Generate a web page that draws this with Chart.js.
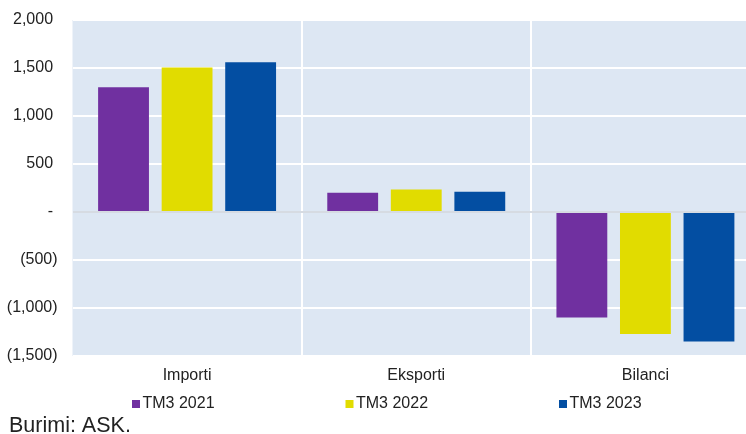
<!DOCTYPE html>
<html>
<head>
<meta charset="utf-8">
<script src="https://cdn.jsdelivr.net/npm/chart.js@4/dist/chart.umd.min.js"></script>
<style>
  html, body { margin: 0; padding: 0; background: #fff; overflow: hidden; }
  #wrap { width: 760px; height: 434px; position: relative; }
</style>
</head>
<body>
<div id="wrap"><canvas id="c" width="760" height="434"></canvas></div>
<script>
const categories = ["Importi", "Eksporti", "Bilanci"];
const seriesNames = ["TM3 2021", "TM3 2022", "TM3 2023"];
const tm3_2021 = [1300, 201, -1099];
const tm3_2022 = [1506, 235, -1271];
const tm3_2023 = [1560, 211, -1349];
const seriesColors = ["#7030a0", "#e1dc00", "#034ea2"];
const sourceText = "Burimi: ASK.";

const FONT = "'Liberation Sans', Arial, sans-serif";
const TEXT = "#222222";

function fmt(v) {
  if (v === 0) return "- ";
  const s = Math.abs(v).toLocaleString("en-US");
  return v < 0 ? "(" + s + ")" : s + " ";
}

const bgPlugin = {
  id: "bg",
  beforeDraw(chart) {
    const { ctx, chartArea: a } = chart;
    ctx.save();
    ctx.fillStyle = "#dde7f3";
    ctx.fillRect(a.left, a.top, a.right - a.left, a.bottom - a.top);
    ctx.restore();
  },
  afterDraw(chart) {
    const ctx = chart.ctx;
    ctx.save();
    ctx.font = "16px " + FONT;
    ctx.textBaseline = "middle";
    ctx.textAlign = "left";
    chart.data.datasets.forEach((ds, i) => {
      const x = 132 + i * 213.5;
      const y = 404;
      ctx.fillStyle = ds.backgroundColor;
      ctx.fillRect(x, y - 4, 8, 8);
      ctx.fillStyle = TEXT;
      ctx.fillText(ds.label, x + 10.5, y);
    });
    ctx.font = "21.5px " + FONT;
    ctx.textBaseline = "alphabetic";
    ctx.fillText(sourceText, 9, 432);
    ctx.restore();
  }
};

const values = [tm3_2021, tm3_2022, tm3_2023];

new Chart(document.getElementById("c"), {
  type: "bar",
  data: {
    labels: categories,
    datasets: seriesNames.map((n, i) => ({
      label: n,
      data: values[i],
      backgroundColor: seriesColors[i],
      borderWidth: 0,
      categoryPercentage: 0.832,
      barPercentage: 0.80
    }))
  },
  options: {
    responsive: false,
    animation: false,
    layout: { padding: { top: 20, left: 0, right: 0, bottom: 0 } },
    plugins: {
      legend: { display: false },
      tooltip: { enabled: false }
    },
    scales: {
      x: {
        grid: {
          offset: true,
          drawTicks: false,
          lineWidth: 2,
          color: (ctx) => (ctx.index === 0 ? "rgba(0,0,0,0)" : "#ffffff")
        },
        border: { display: false },
        ticks: { color: TEXT, font: { size: 16, family: FONT }, padding: 10 },
        afterFit(scale) { scale.height = 78; scale.paddingLeft = 0; scale.paddingRight = 0; }
      },
      y: {
        min: -1500,
        max: 2000,
        ticks: {
          stepSize: 500,
          color: TEXT,
          font: { size: 16, family: FONT },
          padding: 15,
          callback: (v) => fmt(v)
        },
        grid: {
          drawTicks: false,
          lineWidth: 2,
          color: (ctx) => (ctx.tick && ctx.tick.value === 0 ? "#d6dbe2" : "#ffffff")
        },
        border: { display: false },
        afterFit(scale) { scale.width = 72.5; scale.paddingTop = 0; scale.paddingBottom = 0; }
      }
    }
  },
  plugins: [bgPlugin]
});
</script>
</body>
</html>
